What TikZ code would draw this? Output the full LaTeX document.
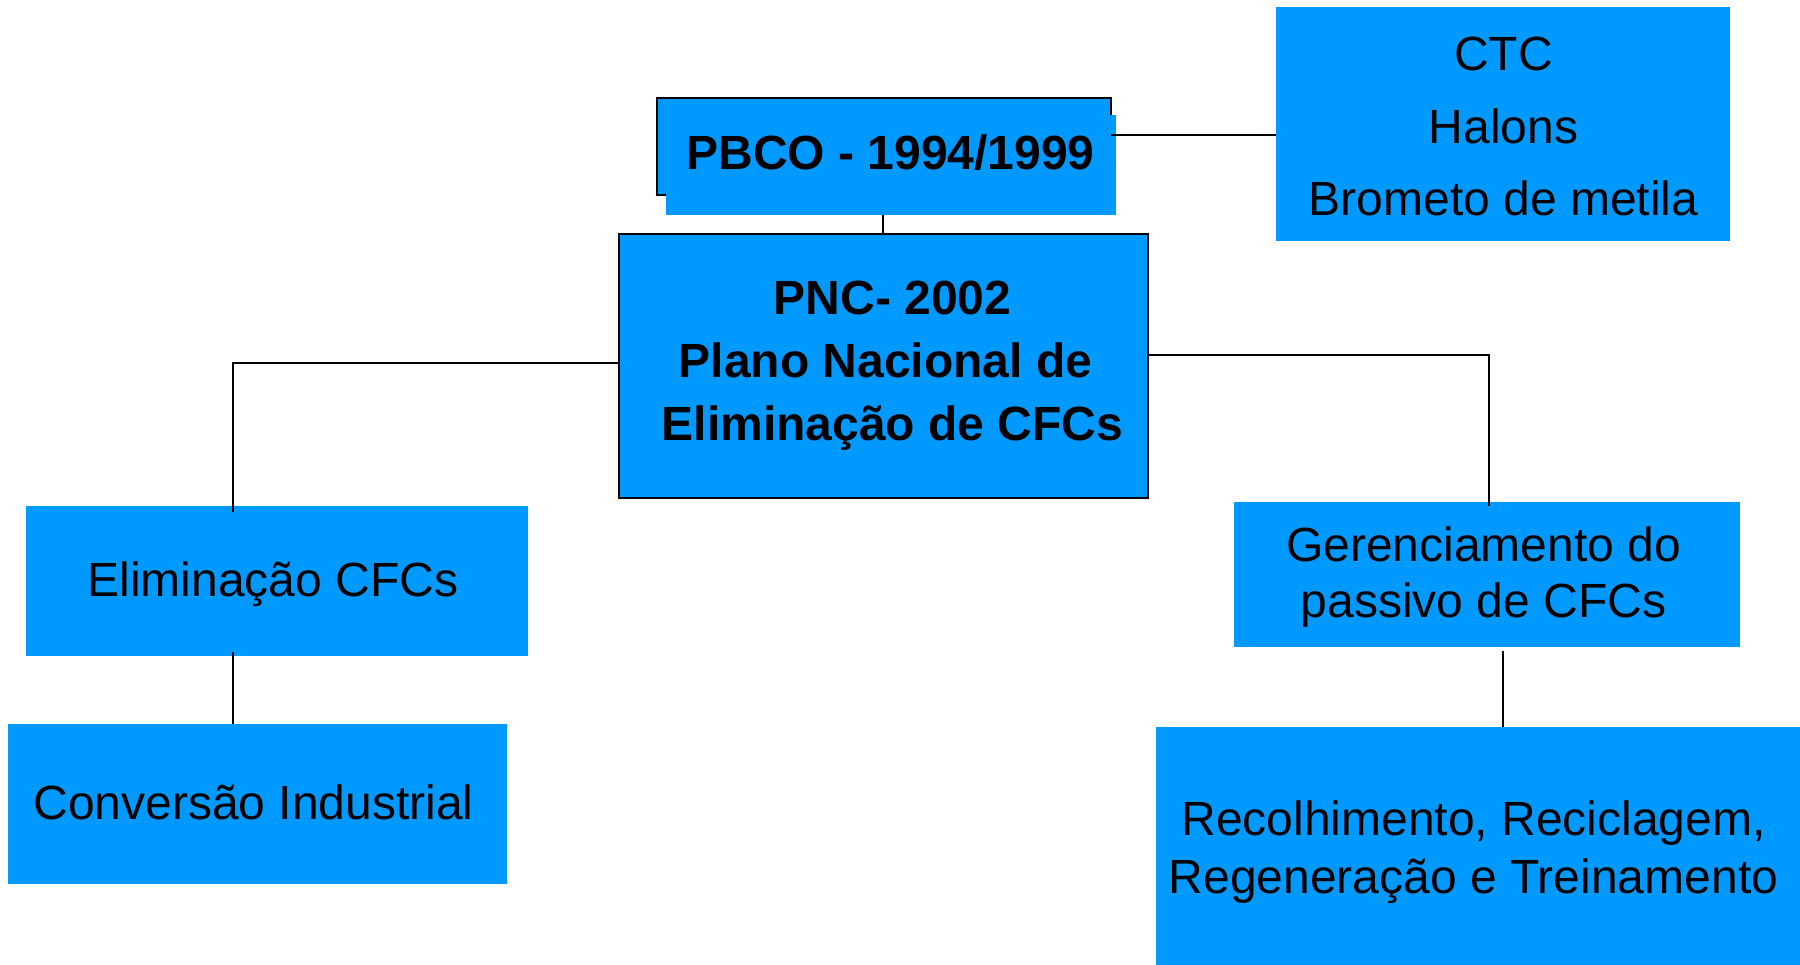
\documentclass[tikz,border=0pt]{standalone}
\usepackage{fontspec}
\setmainfont{Liberation Sans}
\definecolor{boxblue}{RGB}{0,153,255}
\begin{document}
\begin{tikzpicture}[x=1pt,y=-1pt,
  box/.style={fill=boxblue, inner sep=0pt, outer sep=0pt, anchor=center},
  outl/.style={draw=black, line width=2pt},
  txt/.style={inner sep=0pt, align=center, font=\fontsize{48}{55}\selectfont},
  conn/.style={draw=black, line width=2pt}]
\useasboundingbox (0,0) rectangle (1800,965);
% boxes
\node[box, minimum width=453.5pt, minimum height=234pt] (ctc) at (1503,124) {};
\node[box, outl, minimum width=454.6pt, minimum height=97.6pt] (pbco) at (883.9,146.4) {};
\node[box, minimum width=450pt, minimum height=99.9pt] (pbco2) at (890.8,164.75) {};
\node[box, outl, minimum width=529.2pt, minimum height=264pt] (pnc) at (883.4,366.2) {};
\node[box, minimum width=501.6pt, minimum height=149.2pt] (elim) at (277.2,580.9) {};
\node[box, minimum width=499.4pt, minimum height=159.6pt] (conv) at (257.7,804.2) {};
\node[box, minimum width=506.3pt, minimum height=145.7pt] (ger) at (1487.2,574.5) {};
\node[box, minimum width=644pt, minimum height=238.3pt] (rec) at (1478,845.85) {};
% texts
\node[txt, font=\fontsize{48}{72.5}\selectfont] (ctct) at (1503.5,126.5) {CTC\\Halons\\Brometo de metila};
\node[txt, anchor=base, font=\fontsize{48}{55}\selectfont\bfseries] (pbcot) at (890.5,170) {PBCO - 1994/1999};
\node[txt, font=\fontsize{48}{63}\selectfont\bfseries] (pnct) at (892.5,366) {PNC- 2002\\Plano Nacional de\kern14pt\\Eliminação de CFCs};
\node[txt, anchor=base] (elimt) at (273,596) {Eliminação CFCs};
\node[txt, anchor=base] (convt) at (253.5,819.4) {Conversão Industrial};
\node[txt, font=\fontsize{48}{56}\selectfont] (gert) at (1483.5,577) {Gerenciamento do\\passivo de CFCs};
\node[txt, font=\fontsize{48}{57.4}\selectfont] (rect) at (1473.5,852) {Recolhimento, Reciclagem,\\Regeneração e Treinamento};
% connectors
\coordinate (pbr) at (1111.2,134.9);
\draw[conn] (pbr) -- (pbr -| ctc.west);
\draw[conn] (pnc.north |- pbco2.south) -- (pnc.north);
\coordinate (lj) at (233,362.8);
\draw[conn] (lj -| pnc.west) -- (lj) -- ([yshift=-6pt]lj |- elim.north);
\draw[conn] ([yshift=4pt]lj |- elim.south) -- (lj |- conv.north);
\coordinate (rj) at (1489,354.7);
\draw[conn] (rj -| pnc.east) -- (rj) -- ([yshift=-4pt]rj |- ger.north);
\coordinate (rk) at (1502.6,0);
\draw[conn] ([yshift=-4pt]rk |- ger.south) -- (rk |- rec.north);
\end{tikzpicture}
\end{document}
